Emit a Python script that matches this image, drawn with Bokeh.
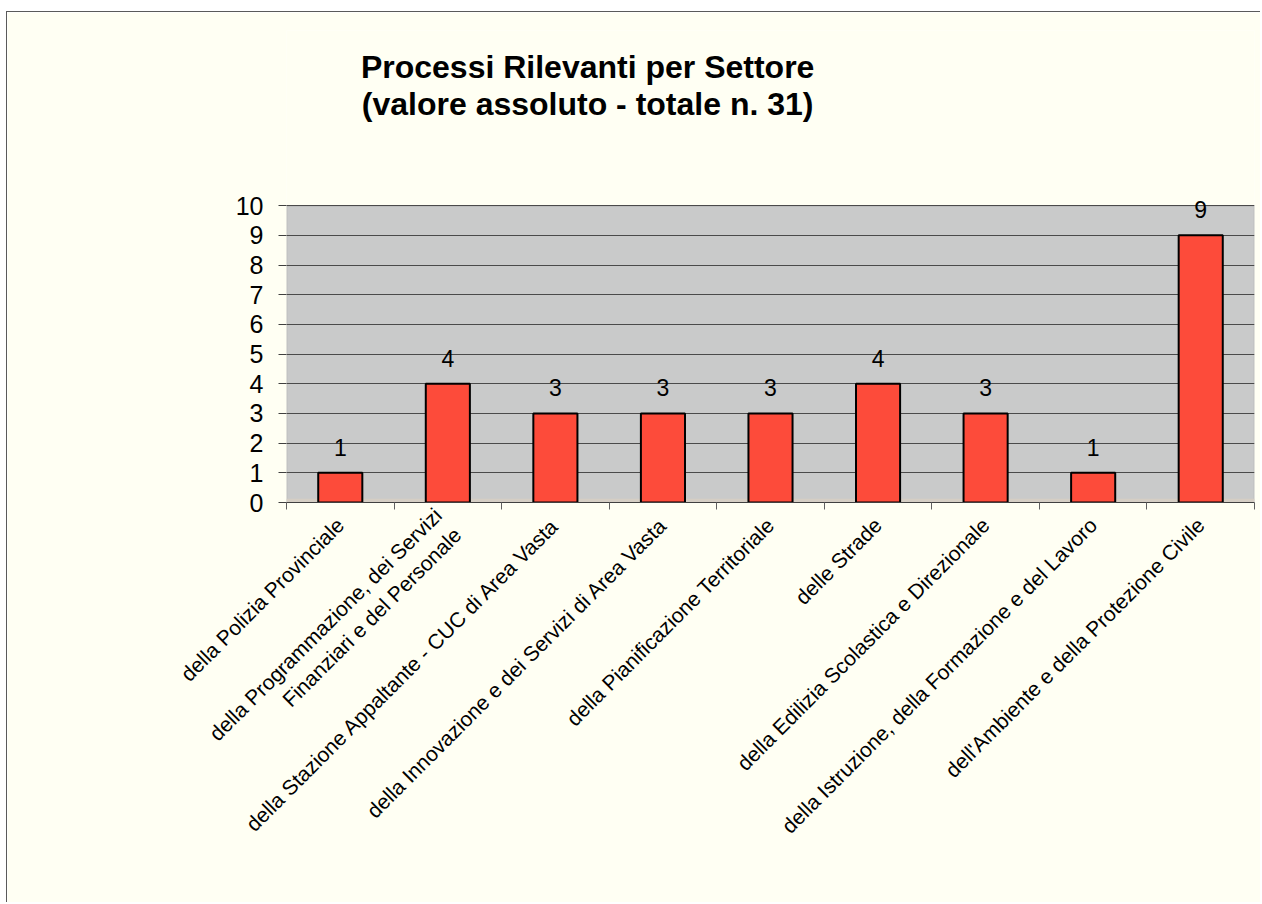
import math
from bokeh.plotting import figure
from bokeh.models import (Range1d, LinearAxis, FixedTicker, LabelSet, Label,
                          ColumnDataSource, BoxAnnotation)
from bokeh.core.properties import value
from bokeh.embed import file_html
from bokeh.resources import INLINE

# ---- data ----
categories = [
    "della Polizia Provinciale",
    "della Programmazione, dei Servizi\nFinanziari e del Personale",
    "della Stazione Appaltante - CUC di Area Vasta",
    "della Innovazione e dei Servizi di Area Vasta",
    "della Pianificazione Territoriale",
    "delle Strade",
    "della Edilizia Scolastica e Direzionale",
    "della Istruzione, della Formazione e del Lavoro",
    "dell'Ambiente e della Protezione Civile",
]
values = [1, 4, 3, 3, 3, 4, 3, 1, 9]
y_ticks = [0, 1, 2, 3, 4, 5, 6, 7, 8, 9, 10]
y_max = 10
title_lines = ["Processi Rilevanti per Settore", "(valore assoluto - totale n. 31)"]

FONT = "Liberation Sans"
CREAM = "#FFFFF3"
PLOT_GRAY = "#C9CACA"

n = len(categories)
centers = [i + 0.5 for i in range(n)]      # category slot centres
edges = list(range(n + 1))                 # category slot boundaries

# the visible frame extends above the value axis so the title can sit in it
VIEW_TOP = 15.9
TITLE_X = 2.80
TITLE_Y = [14.66, 13.43]

W, H = 1254, 891
p = figure(width=W, height=H, x_range=Range1d(0, n), y_range=Range1d(0, VIEW_TOP),
           output_backend="svg", toolbar_location=None, x_axis_location=None,
           y_axis_location="left",
           min_border_left=279, min_border_right=7, min_border_top=18, min_border_bottom=401)

p.border_fill_color = CREAM
p.background_fill_color = CREAM
p.outline_line_color = None
p.styles = {"margin-left": "6px", "margin-top": "11px",
            "border-top": "1px solid #5a5a5a", "border-left": "1px solid #5a5a5a"}

# plot area (grey box 0..10)
p.add_layout(BoxAnnotation(left=0, right=n, bottom=0, top=y_max, fill_color=PLOT_GRAY,
                           fill_alpha=1, line_color="#7a7a7a", line_width=1.5, level="image"))
# floor band
p.add_layout(BoxAnnotation(left=0, right=n, bottom=0, top=0.13, fill_color="#D5CEC4",
                           fill_alpha=1, line_color=None, level="image"))

# y axis
yax = p.yaxis[0]
yax.ticker = FixedTicker(ticks=y_ticks)
yax.major_tick_out = 8
yax.major_tick_in = 0
yax.minor_tick_line_color = None
yax.axis_line_color = None
yax.major_tick_line_color = "#404040"
yax.major_label_standoff = 15
yax.major_label_text_font = FONT
yax.major_label_text_font_size = "25px"
yax.major_label_text_color = "black"

p.xgrid.visible = False
p.ygrid[0].ticker = FixedTicker(ticks=y_ticks)
p.ygrid[0].grid_line_color = "#4a4a4a"
p.ygrid[0].grid_line_width = 1

# x axes: boundary ticks, then rotated category labels
edge_axis = LinearAxis(ticker=FixedTicker(ticks=edges),
                       major_label_overrides={e: "" for e in edges},
                       major_label_text_font_size="0px", major_label_standoff=0,
                       major_tick_out=7, major_tick_in=0, minor_tick_line_color=None,
                       axis_line_color="#404040", major_tick_line_color="#606060")
p.add_layout(edge_axis, "below")

cat_axis = LinearAxis(ticker=FixedTicker(ticks=centers),
                      major_label_overrides={c: lab for c, lab in zip(centers, categories)},
                      axis_line_color=None, major_tick_line_color=None,
                      minor_tick_line_color=None,
                      major_tick_out=0, major_tick_in=0,
                      major_label_orientation=math.pi / 4,
                      major_label_standoff=12,
                      major_label_text_font=FONT,
                      major_label_text_font_size="21px",
                      major_label_text_color="black")
p.add_layout(cat_axis, "below")

# bars
src = ColumnDataSource(dict(x=centers, top=values, label=[str(v) for v in values]))
p.vbar(x="x", top="top", width=0.41, source=src, fill_color="#FD4B3A",
       line_color="black", line_width=2)

p.add_layout(LabelSet(x="x", y="top", text="label", source=src, y_offset=17,
                      text_align="center", text_baseline="alphabetic",
                      text_font=value(FONT), text_font_size=value("23px"),
                      text_color="black"))

# title, two lines
for line, ty in zip(title_lines, TITLE_Y):
    p.add_layout(Label(x=TITLE_X, y=ty, text=line, text_align="center",
                       text_baseline="alphabetic", text_font=FONT,
                       text_font_size="32px", text_font_style="bold",
                       text_color="black"))

html = file_html(p, INLINE)
open("out.html", "w").write(html)
